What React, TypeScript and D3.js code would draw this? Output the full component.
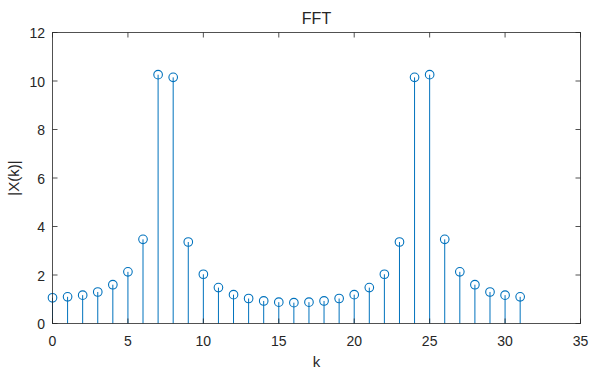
import React from "react";
import * as d3 from "d3";

// FFT magnitude bins, k = 0..31
const bins: number[] = d3.range(32);
const magnitudes: number[] = [
  1.06, 1.1, 1.17, 1.3, 1.6, 2.13, 3.47, 10.26, 10.15, 3.36, 2.03, 1.48, 1.19, 1.03, 0.93, 0.88,
  0.86, 0.88, 0.93, 1.03, 1.19, 1.48, 2.03, 3.36, 10.15, 10.26, 3.47, 2.13, 1.6, 1.3, 1.17, 1.1,
];
const xTicks: number[] = [0, 5, 10, 15, 20, 25, 30, 35];
const yTicks: number[] = [0, 2, 4, 6, 8, 10, 12];

const W = 590;
const H = 372;
const left = 52.5;
const right = 580.5;
const top = 32.5;
const bottom = 323.5;

const stemColor = "#0072BD";
const axisColor = "#262626";
const font = "'Liberation Sans', Arial, Helvetica, sans-serif";

export default function App() {
  const x = d3.scaleLinear().domain([0, 35]).range([left, right]);
  const y = d3.scaleLinear().domain([0, 12]).range([bottom, top]);
  const tick = 5;

  return (
    <svg width={W} height={H} style={{ position: "absolute", left: 0, top: 0, background: "#fff" }}>
      <rect x={0} y={0} width={W} height={H} fill="#fff" />
      {/* stems */}
      <g>
        {bins.map((k, i) => (
          <g key={k}>
            <line x1={x(k)} x2={x(k)} y1={y(0)} y2={y(magnitudes[i])} stroke={stemColor} strokeWidth={1} />
            <circle cx={x(k)} cy={y(magnitudes[i])} r={4.3} fill="none" stroke={stemColor} strokeWidth={1.1} />
          </g>
        ))}
      </g>
      {/* axes box */}
      <rect x={left} y={top} width={right - left} height={bottom - top} fill="none" stroke={axisColor} strokeOpacity={0.8} strokeWidth={1} />
      {xTicks.map((t) => (
        <g key={"x" + t}>
          <line x1={x(t)} x2={x(t)} y1={bottom} y2={bottom - tick} stroke={axisColor} strokeOpacity={0.8} />
          <line x1={x(t)} x2={x(t)} y1={top} y2={top + tick} stroke={axisColor} strokeOpacity={0.8} />
          <text x={x(t)} y={345.5} textAnchor="middle" fontFamily={font} fontSize={14} fill={axisColor}>
            {t}
          </text>
        </g>
      ))}
      {yTicks.map((t) => (
        <g key={"y" + t}>
          <line x1={left} x2={left + tick} y1={y(t)} y2={y(t)} stroke={axisColor} strokeOpacity={0.8} />
          <line x1={right} x2={right - tick} y1={y(t)} y2={y(t)} stroke={axisColor} strokeOpacity={0.8} />
          <text x={45} y={y(t) + 5.5} textAnchor="end" fontFamily={font} fontSize={14} fill={axisColor}>
            {t}
          </text>
        </g>
      ))}
      <text x={(left + right) / 2} y={24} textAnchor="middle" fontFamily={font} fontSize={16} fill={axisColor}>
        FFT
      </text>
      <text x={(left + right) / 2} y={367} textAnchor="middle" fontFamily={font} fontSize={15} fill={axisColor}>
        k
      </text>
      <text
        transform={`translate(18.5,${(top + bottom) / 2}) rotate(-90)`}
        textAnchor="middle"
        fontFamily={font}
        fontSize={15}
        fill={axisColor}
      >
        |X(k)|
      </text>
    </svg>
  );
}
